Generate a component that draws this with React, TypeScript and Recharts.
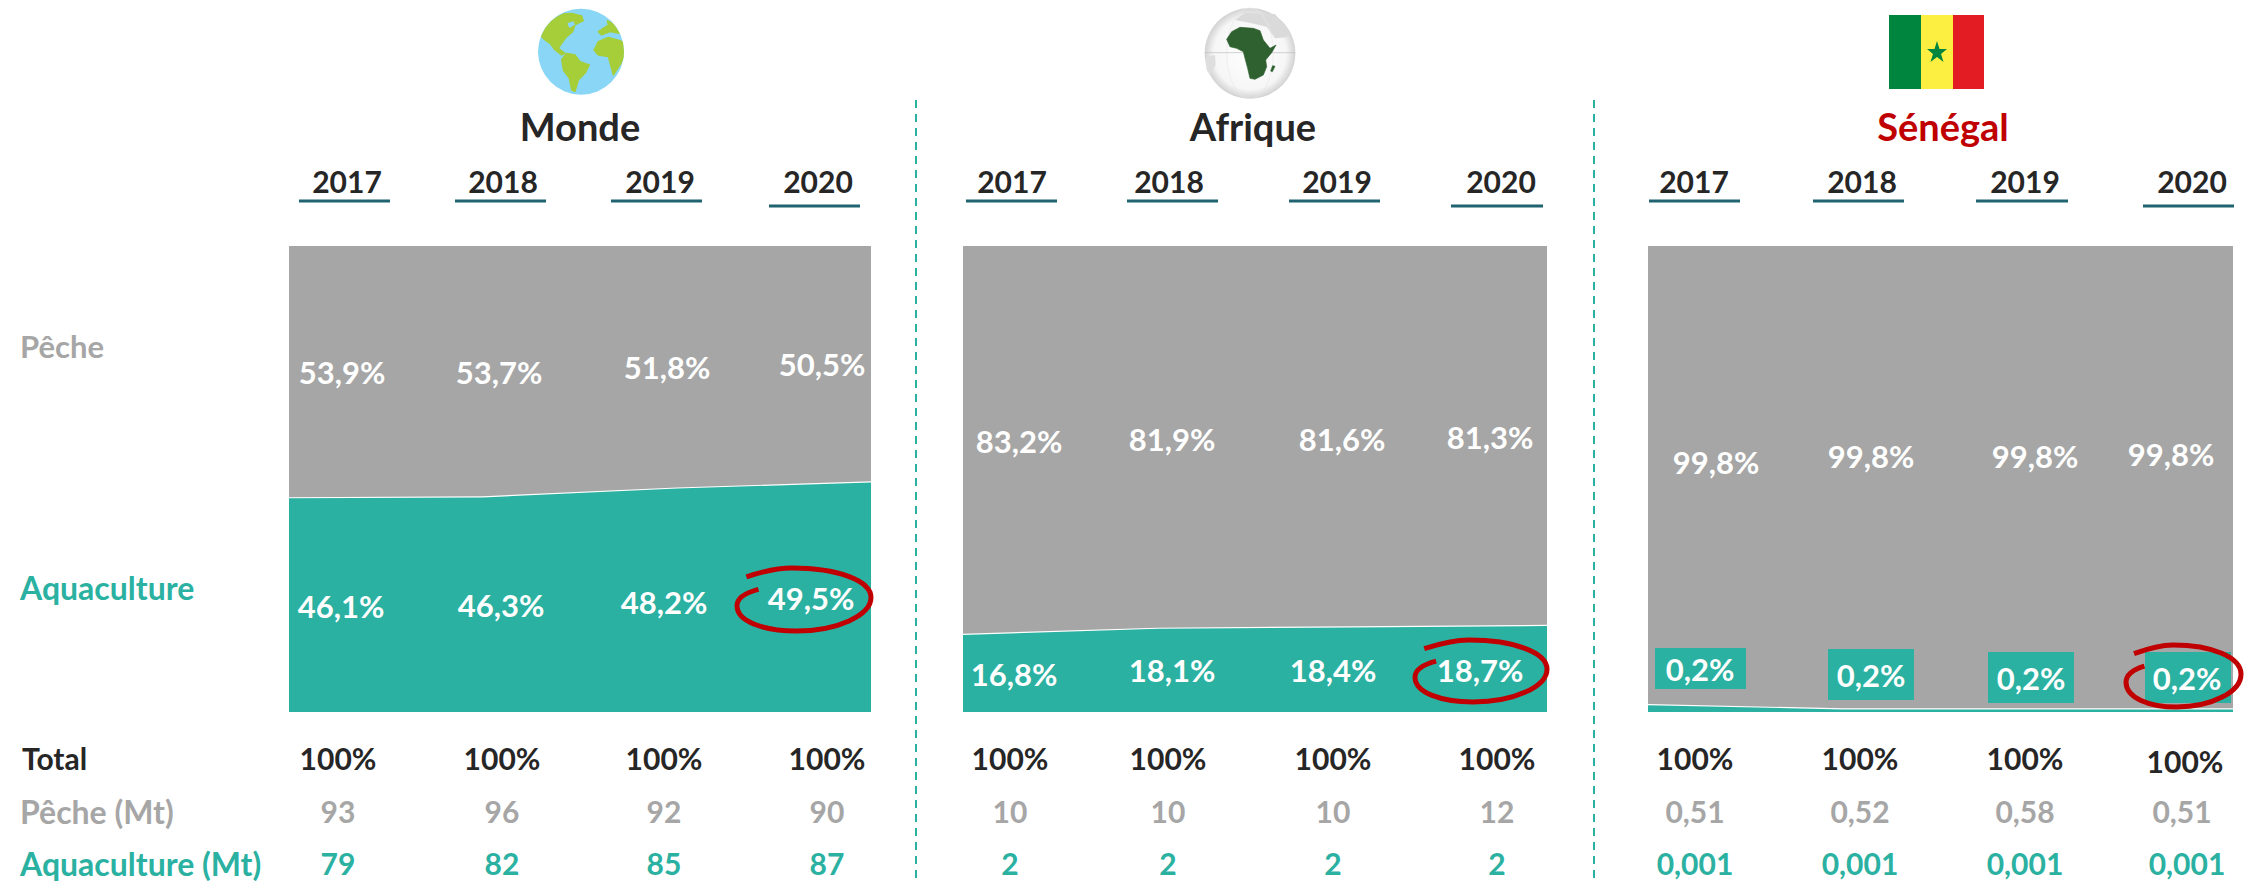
import React from "react";
import { AreaChart, Area, XAxis, YAxis } from "recharts";

const years = ["2017", "2018", "2019", "2020"];

const mondeAqua = [46.1, 46.3, 48.2, 49.5];
const mondePeche = [53.9, 53.7, 51.8, 50.5];
const afriqueAqua = [16.8, 18.1, 18.4, 18.7];
const afriquePeche = [83.2, 81.9, 81.6, 81.3];
// Thickness of the Senegal band as drawn in the picture (the printed labels say 0,2 %).
const senegalAqua = [1.7, 0.8, 0.8, 0.8];
const senegalPeche = [98.3, 99.2, 99.2, 99.2];

const mondePecheLabels = ["53,9%", "53,7%", "51,8%", "50,5%"];
const mondeAquaLabels = ["46,1%", "46,3%", "48,2%", "49,5%"];
const afriquePecheLabels = ["83,2%", "81,9%", "81,6%", "81,3%"];
const afriqueAquaLabels = ["16,8%", "18,1%", "18,4%", "18,7%"];
const senegalPecheLabels = ["99,8%", "99,8%", "99,8%", "99,8%"];
const senegalAquaLabels = ["0,2%", "0,2%", "0,2%", "0,2%"];

const totals = ["100%", "100%", "100%", "100%"];
const mondePecheMt = ["93", "96", "92", "90"];
const mondeAquaMt = ["79", "82", "85", "87"];
const afriquePecheMt = ["10", "10", "10", "12"];
const afriqueAquaMt = ["2", "2", "2", "2"];
const senegalPecheMt = ["0,51", "0,52", "0,58", "0,51"];
const senegalAquaMt = ["0,001", "0,001", "0,001", "0,001"];

const GREY = "#A6A6A6";
const TEAL = "#2BB1A1";
const DARK = "#262626";
const RED = "#C00000";
const RULE = "#1F6470";
const FONT = "Lato, 'Open Sans', sans-serif";

const table = (aqua: number[], peche: number[]) =>
  years.map((year, i) => ({ year, aqua: aqua[i], peche: peche[i] }));

function Panel({ x, w, aqua, peche }: { x: number; w: number; aqua: number[]; peche: number[] }) {
  return (
    <div style={{ position: "absolute", left: x, top: 246, width: w, height: 466 }}>
      <AreaChart width={w} height={466} data={table(aqua, peche)} margin={{ top: 0, right: 0, bottom: 0, left: 0 }}>
        <XAxis dataKey="year" hide padding={{ left: 0, right: 0 }} />
        <YAxis hide domain={[0, 100]} />
        <Area type="linear" dataKey="aqua" stackId="a" fill={TEAL} fillOpacity={1} stroke="#ffffff" strokeWidth={2.4} isAnimationActive={false} dot={false} activeDot={false} />
        <Area type="linear" dataKey="peche" stackId="a" fill={GREY} fillOpacity={1} stroke="none" isAnimationActive={false} dot={false} activeDot={false} />
      </AreaChart>
    </div>
  );
}

function T({ x, y, s, size = 30, fill = DARK, anchor = "middle", weight = 700 }: { x: number; y: number; s: string; size?: number; fill?: string; anchor?: string; weight?: number }) {
  return (
    <text x={x} y={y} fontFamily={FONT} fontSize={size} fontWeight={weight} fill={fill} textAnchor={anchor as any} dominantBaseline="central">
      {s}
    </text>
  );
}

function Ring({ x, y, w, h }: { x: number; y: number; w: number; h: number }) {
  const p = (a: number, b: number) => `${x + a * w} ${y + b * h}`;
  const d = `M ${p(0.07, 0.14)} C ${p(0.2, 0.05)} ${p(0.3, 0)} ${p(0.41, 0)} C ${p(0.75, 0)} ${p(1, 0.2)} ${p(1, 0.47)} C ${p(1, 0.75)} ${p(0.75, 1)} ${p(0.44, 1)} C ${p(0.2, 1)} ${p(0, 0.85)} ${p(0, 0.6)} C ${p(0, 0.47)} ${p(0.07, 0.39)} ${p(0.16, 0.34)}`;
  return <path d={d} fill="none" stroke={RED} strokeWidth={5} />;
}

const rule = (x1: number, x2: number, y: number, key: string) => (
  <line key={key} x1={x1} x2={x2} y1={y} y2={y} stroke={RULE} strokeWidth={3} />
);

export default function App() {
  return (
    <div style={{ position: "absolute", left: 0, top: 0, width: 2255, height: 881, background: "#fff", overflow: "hidden" }}>
      <Panel x={289} w={582} aqua={mondeAqua} peche={mondePeche} />
      <Panel x={963} w={584} aqua={afriqueAqua} peche={afriquePeche} />
      <Panel x={1648} w={585} aqua={senegalAqua} peche={senegalPeche} />

      <svg width={2255} height={881} style={{ position: "absolute", left: 0, top: 0 }}>
        <defs>
          <clipPath id="earth"><circle cx={153} cy={155} r={129} /></clipPath>
          <radialGradient id="sph" cx="50%" cy="50%" r="50%">
            <stop offset="0%" stopColor="#FFFFFF" />
            <stop offset="80%" stopColor="#F6F6F6" />
            <stop offset="100%" stopColor="#D2D2D2" />
          </radialGradient>
        </defs>

        {/* icons */}
        <g transform="translate(530 0) scale(0.3333)">
          <circle cx={153} cy={155} r={129} fill="#89D6F6" />
          <g clipPath="url(#earth)" fill="#A5CE39" stroke="#A5CE39" strokeLinejoin="round" strokeWidth={4}>
            <path d="M35 110 C45 80 70 55 100 42 L125 40 L155 48 L160 62 L135 75 L128 95 L110 110 L95 130 L85 145 L105 160 L95 165 L75 150 L60 130 L45 120 Z" />
            <path d="M95 178 L110 160 L135 165 L150 185 L178 195 L165 220 L145 240 L135 275 L125 270 L118 235 L100 210 Z" />
            <path d="M192 150 L205 125 L235 112 L270 122 L285 130 L282 170 L270 195 L250 225 L242 195 L235 170 L205 165 Z" />
            <path d="M205 95 L235 75 L232 62 L250 72 L268 100 L240 95 L215 105 Z" />
          </g>
          <path d="M112 70 L130 64 L135 74 L118 84 Z" fill="#89D6F6" />
        </g>

        <g transform="translate(1195 0) scale(0.3333)">
          <circle cx={165} cy={160} r={136} fill="url(#sph)" />
          <path d="M120 60 L150 38 L240 42 L285 95 L275 112 L240 115 L215 80 L170 70 Z" fill="#DADADA" />
          <path d="M32 170 L60 165 L62 195 L45 225 L35 210 Z" fill="#DEDEDE" />
          <ellipse cx={165} cy={160} rx={70} ry={136} fill="none" stroke="#E8E8E8" strokeWidth={2} />
          <line x1={29} x2={301} y1={158} y2={158} stroke="#BDBDBD" strokeWidth={2} />
          <g fill="#2F6130" stroke="#2F6130" strokeLinejoin="round" strokeWidth={2}>
            <path d="M95 118 L110 95 L135 82 L175 85 L195 92 L205 120 L225 145 L243 135 L230 158 L212 180 L215 200 L205 225 L180 238 L165 235 L158 205 L150 175 L145 155 L125 145 L105 140 Z" />
            <path d="M233 197 L240 199 L232 215 L227 213 Z" />
          </g>
        </g>

        <rect x={1889} y={15} width={32} height={74} fill="#00853F" />
        <rect x={1921} y={15} width={32} height={74} fill="#FDEF42" />
        <rect x={1953} y={15} width={31} height={74} fill="#E31B23" />
        <path d="M1937 41 L1939.5 49 L1947 49 L1941 54 L1943.5 62 L1937 57 L1930.5 62 L1933 54 L1927 49 L1934.5 49 Z" fill="#00853F" />

        {/* separators */}
        <line x1={916} x2={916} y1={100} y2={881} stroke={TEAL} strokeWidth={2} strokeDasharray="8 6" />
        <line x1={1594} x2={1594} y1={100} y2={881} stroke={TEAL} strokeWidth={2} strokeDasharray="8 6" />

        {/* titles */}
        <T x={580} y={126} s="Monde" size={38} />
        <T x={1253} y={126} s="Afrique" size={38} />
        <T x={1943} y={126} s="Sénégal" size={38} fill={RED} />

        {/* year headers */}
        {[347, 503, 660, 818].map((x, i) => <T key={"my" + i} x={x} y={181} s={years[i]} />)}
        {[1012, 1169, 1337, 1501].map((x, i) => <T key={"ay" + i} x={x} y={181} s={years[i]} />)}
        {[1694, 1862, 2025, 2192].map((x, i) => <T key={"sy" + i} x={x} y={181} s={years[i]} />)}
        {[[299, 390, 201], [455, 546, 201], [611, 702, 201], [769, 860, 206],
          [966, 1057, 201], [1127, 1218, 201], [1289, 1380, 201], [1451, 1543, 206],
          [1649, 1740, 201], [1813, 1904, 201], [1976, 2068, 201], [2143, 2234, 206]].map((r, i) =>
          rule(r[0], r[1], r[2], "r" + i))}

        {/* row titles */}
        <T x={20} y={346} s="Pêche" fill={GREY} anchor="start" size={31} />
        <T x={20} y={587} s="Aquaculture" fill={TEAL} anchor="start" size={32} />
        <T x={22} y={758} s="Total" anchor="start" />
        <T x={20} y={811} s="Pêche (Mt)" fill={GREY} anchor="start" size={32} />
        <T x={20} y={863} s="Aquaculture (Mt)" fill={TEAL} anchor="start" size={32} />

        {/* Senegal label boxes */}
        <rect x={1655} y={648} width={91} height={41} fill={TEAL} />
        <rect x={1828} y={649} width={86} height={51} fill={TEAL} />
        <rect x={1988} y={652} width={86} height={51} fill={TEAL} />
        <rect x={2145} y={652} width={86} height={51} fill={TEAL} />

        {/* share labels */}
        {[[342, 372], [499, 372], [667, 367], [822, 364]].map((p, i) => <T key={"mp" + i} x={p[0]} y={p[1]} s={mondePecheLabels[i]} fill="#fff" size={31} />)}
        {[[341, 606], [501, 605], [664, 602], [811, 598]].map((p, i) => <T key={"ma" + i} x={p[0]} y={p[1]} s={mondeAquaLabels[i]} fill="#fff" size={31} />)}
        {[[1019, 441], [1172, 439], [1342, 439], [1490, 437]].map((p, i) => <T key={"ap" + i} x={p[0]} y={p[1]} s={afriquePecheLabels[i]} fill="#fff" size={31} />)}
        {[[1014, 674], [1172, 670], [1333, 670], [1480, 670]].map((p, i) => <T key={"aa" + i} x={p[0]} y={p[1]} s={afriqueAquaLabels[i]} fill="#fff" size={31} />)}
        {[[1716, 462], [1871, 456], [2035, 456], [2171, 454]].map((p, i) => <T key={"sp" + i} x={p[0]} y={p[1]} s={senegalPecheLabels[i]} fill="#fff" size={31} />)}
        {[[1700, 669], [1871, 675], [2031, 678], [2187, 678]].map((p, i) => <T key={"sa" + i} x={p[0]} y={p[1]} s={senegalAquaLabels[i]} fill="#fff" size={31} />)}

        {/* figures under the charts */}
        {[338, 502, 664, 827].map((x, i) => (
          <g key={"mr" + i}>
            <T x={x} y={758} s={totals[i]} />
            <T x={x} y={811} s={mondePecheMt[i]} fill={GREY} />
            <T x={x} y={863} s={mondeAquaMt[i]} fill={TEAL} />
          </g>
        ))}
        {[1010, 1168, 1333, 1497].map((x, i) => (
          <g key={"ar" + i}>
            <T x={x} y={758} s={totals[i]} />
            <T x={x} y={811} s={afriquePecheMt[i]} fill={GREY} />
            <T x={x} y={863} s={afriqueAquaMt[i]} fill={TEAL} />
          </g>
        ))}
        {[1695, 1860, 2025, 2185].map((x, i) => (
          <g key={"sr" + i}>
            <T x={x} y={i === 3 ? 761 : 758} s={totals[i]} />
            <T x={i === 3 ? 2182 : x} y={811} s={senegalPecheMt[i]} fill={GREY} />
            <T x={i === 3 ? 2187 : x} y={863} s={senegalAquaMt[i]} fill={TEAL} />
          </g>
        ))}

        {/* highlights */}
        <Ring x={737} y={568} w={134} h={63} />
        <Ring x={1415} y={640} w={132} h={62} />
        <Ring x={2126} y={645} w={115} h={62} />
      </svg>
    </div>
  );
}
